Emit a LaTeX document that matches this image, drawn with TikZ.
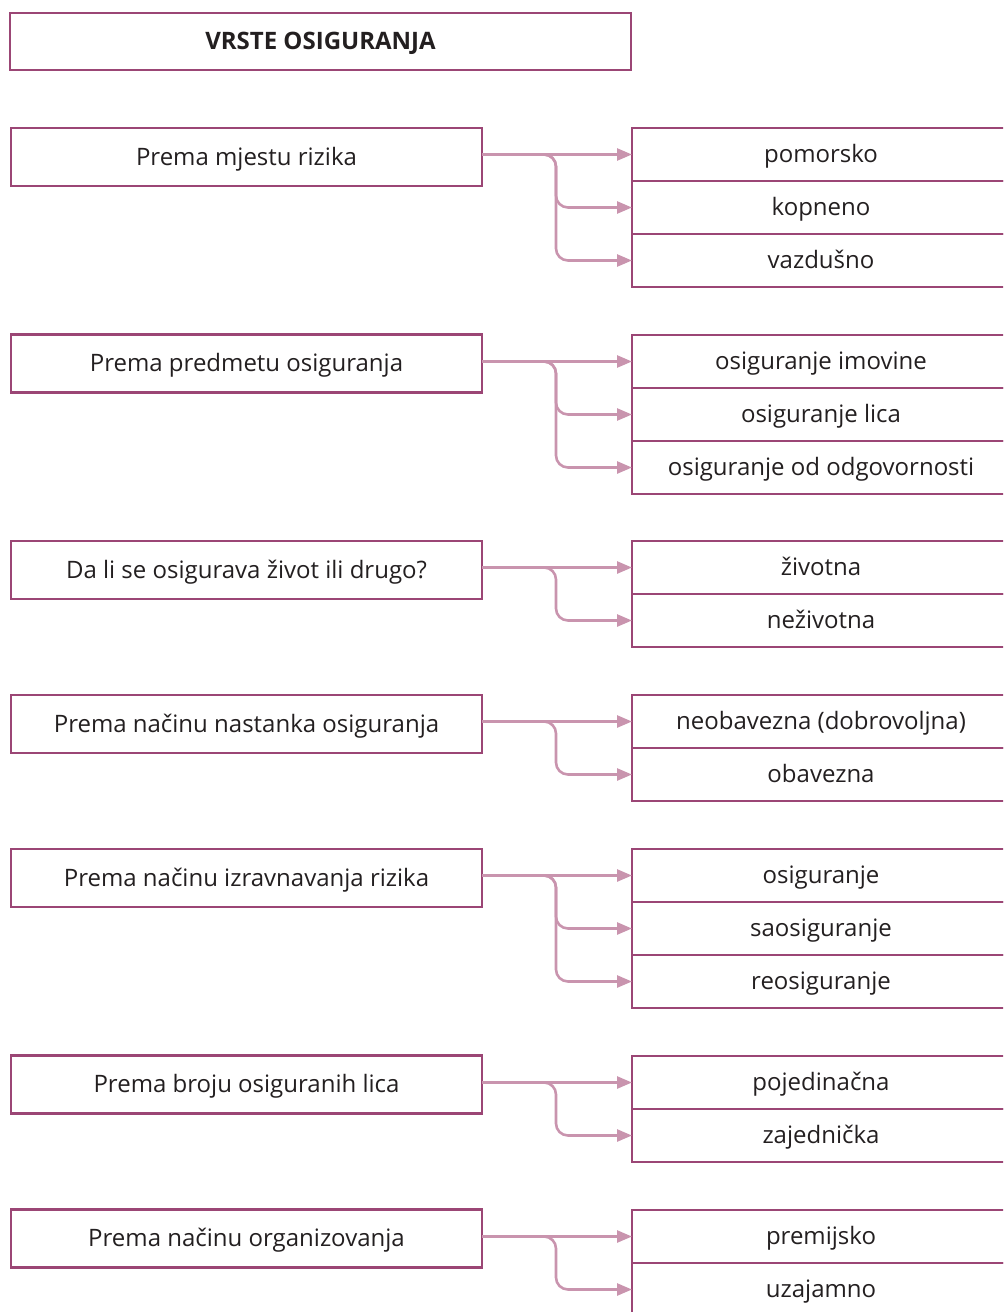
\documentclass[tikz,border=0pt]{standalone}
\usepackage{fontspec}
\setmainfont{Open Sans}
\usetikzlibrary{arrows.meta,positioning}
\definecolor{boxline}{HTML}{9B4675}
\definecolor{arrline}{HTML}{C994AE}
\definecolor{txt}{HTML}{231F20}

\begin{document}
\begin{tikzpicture}[x=0.5pt,y=-0.5pt,
	box/.style={draw=boxline,line width=1.2pt,inner sep=0pt,outer sep=0pt,text=txt,text height=9.2pt,text depth=1pt,font=\fontsize{12}{15}\selectfont},
	leftbox/.style={box,minimum width=235.5pt,minimum height=29pt},
	rightbox/.style={box,minimum width=189pt,minimum height=26.5pt},
	arr/.style={draw=arrline,line width=1.3pt,rounded corners=6pt,-{Triangle[length=7.5pt,width=6pt]}}]
	\useasboundingbox (0,0) rectangle (1003,1312);
	\clip (0,0) rectangle (1003,1312);
	%TITLE
	\node[box,minimum width=310.5pt,minimum height=28.5pt,font=\fontsize{12}{15}\selectfont\bfseries] (title) at (320.5,41.5) {VRSTE OSIGURANJA};

	%PREMA MJESTU RIZIKA
	\node[leftbox] (mjesto) at (246.5,157) {Prema mjestu rizika};
	\node[rightbox] (pomorsko) at (821,154.5) {pomorsko};
	\node[rightbox,below=0pt of pomorsko] (kopneno) {kopneno};
	\node[rightbox,below=0pt of kopneno] (vazdusno) {vazdušno};
	\coordinate (f1) at (556,154.5);
	\draw[arr] (mjesto.east |- pomorsko.west) -- (pomorsko.west);
	\draw[arr] (mjesto.east |- pomorsko.west) -| (f1 |- kopneno.west) -- (kopneno.west);
	\draw[arr] (mjesto.east |- pomorsko.west) -| (f1 |- vazdusno.west) -- (vazdusno.west);

	%PREMA PREDMETU
	\node[leftbox] (predmet) at (246.5,363.5) {Prema predmetu osiguranja};
	\node[rightbox] (imovina) at (821,361.5) {osiguranje imovine};
	\node[rightbox,below=0pt of imovina] (lica) {osiguranje lica};
	\node[rightbox,below=0pt of lica] (odgovornost) {osiguranje od odgovornosti};
	\coordinate (f2) at (556,361.5);
	\draw[arr] (predmet.east |- imovina.west) -- (imovina.west);
	\draw[arr] (predmet.east |- imovina.west) -| (f2 |- lica.west) -- (lica.west);
	\draw[arr] (predmet.east |- imovina.west) -| (f2 |- odgovornost.west) -- (odgovornost.west);

	%ZIVOT ILI DRUGO
	\node[leftbox] (zivot) at (246.5,570) {Da li se osigurava život ili drugo?};
	\node[rightbox] (zivotna) at (821,567.5) {životna};
	\node[rightbox,below=0pt of zivotna] (nezivotna) {neživotna};
	\coordinate (f3) at (556,567.5);
	\draw[arr] (zivot.east |- zivotna.west) -- (zivotna.west);
	\draw[arr] (zivot.east |- zivotna.west) -| (f3 |- nezivotna.west) -- (nezivotna.west);

	%NACIN NASTANKA
	\node[leftbox] (nastanak) at (246.5,724) {Prema načinu nastanka osiguranja};
	\node[rightbox] (neobavezna) at (821,721.5) {neobavezna (dobrovoljna)};
	\node[rightbox,below=0pt of neobavezna] (obavezna) {obavezna};
	\coordinate (f4) at (556,721.5);
	\draw[arr] (nastanak.east |- neobavezna.west) -- (neobavezna.west);
	\draw[arr] (nastanak.east |- neobavezna.west) -| (f4 |- obavezna.west) -- (obavezna.west);

	%IZRAVNAVANJE RIZIKA
	\node[leftbox] (izravnavanje) at (246.5,878) {Prema načinu izravnavanja rizika};
	\node[rightbox] (osiguranje) at (821,875.5) {osiguranje};
	\node[rightbox,below=0pt of osiguranje] (saosiguranje) {saosiguranje};
	\node[rightbox,below=0pt of saosiguranje] (reosiguranje) {reosiguranje};
	\coordinate (f5) at (556,875.5);
	\draw[arr] (izravnavanje.east |- osiguranje.west) -- (osiguranje.west);
	\draw[arr] (izravnavanje.east |- osiguranje.west) -| (f5 |- saosiguranje.west) -- (saosiguranje.west);
	\draw[arr] (izravnavanje.east |- osiguranje.west) -| (f5 |- reosiguranje.west) -- (reosiguranje.west);

	%BROJ OSIGURANIH LICA
	\node[leftbox] (broj) at (246.5,1084.5) {Prema broju osiguranih lica};
	\node[rightbox] (pojedinacna) at (821,1082.5) {pojedinačna};
	\node[rightbox,below=0pt of pojedinacna] (zajednicka) {zajednička};
	\coordinate (f6) at (556,1082.5);
	\draw[arr] (broj.east |- pojedinacna.west) -- (pojedinacna.west);
	\draw[arr] (broj.east |- pojedinacna.west) -| (f6 |- zajednicka.west) -- (zajednicka.west);

	%NACIN ORGANIZOVANJA
	\node[leftbox] (organizovanje) at (246.5,1238.5) {Prema načinu organizovanja};
	\node[rightbox] (premijsko) at (821,1236.5) {premijsko};
	\node[rightbox,below=0pt of premijsko] (uzajamno) {uzajamno};
	\coordinate (f7) at (556,1236.5);
	\draw[arr] (organizovanje.east |- premijsko.west) -- (premijsko.west);
	\draw[arr] (organizovanje.east |- premijsko.west) -| (f7 |- uzajamno.west) -- (uzajamno.west);
\end{tikzpicture}
\end{document}
